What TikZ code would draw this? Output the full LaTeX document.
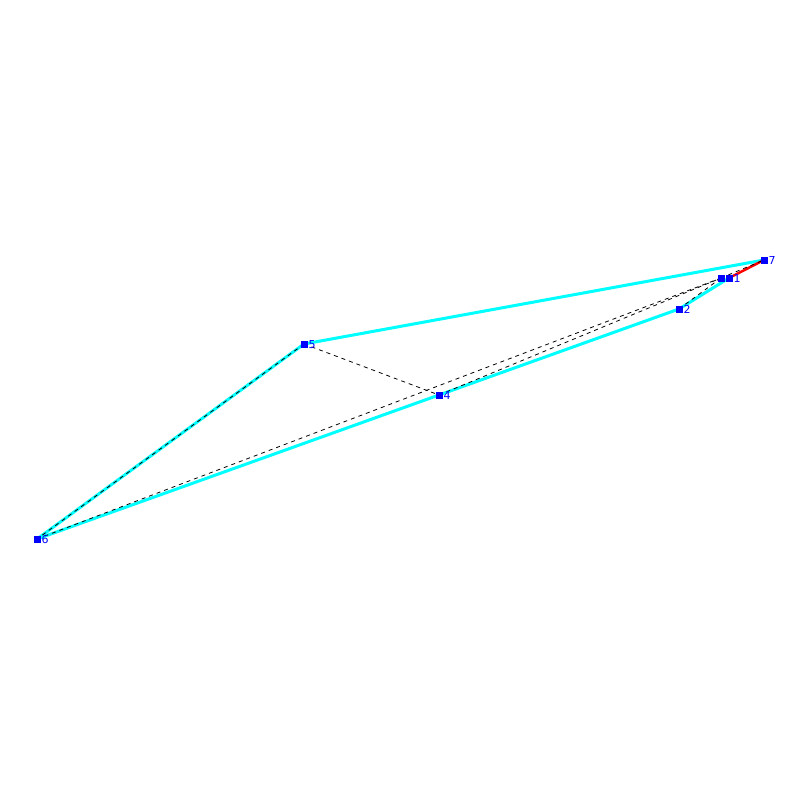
\documentclass[tikz,border=0pt]{standalone}
\usepackage{fontspec}
\setmainfont{DejaVu Sans}
\definecolor{aqua}{RGB}{0,255,255}
\definecolor{pureblue}{RGB}{0,0,255}
\definecolor{purered}{RGB}{255,0,0}
\begin{document}
\begin{tikzpicture}[x=1pt,y=-1pt,
  vert/.style={fill=pureblue,minimum size=7pt,inner sep=0pt,outer sep=0pt},
  lab/.style={text=pureblue,font=\fontsize{11}{11}\selectfont,inner sep=0pt,anchor=west},
  cyanedge/.style={aqua,line width=3pt},
  rededge/.style={purered,line width=2.5pt},
  dashedge/.style={black,line width=0.8pt,dash pattern=on 4pt off 4pt}]
\useasboundingbox (0,0) rectangle (800,800);
\node[vert] (n0) at (721,278) {};
\node[vert] (n1) at (729,278) {};
\node[vert] (n2) at (679,309) {};
\node[vert] (n4) at (439,395) {};
\node[vert] (n5) at (304,344) {};
\node[vert] (n6) at (37,539) {};
\node[vert] (n7) at (764,260) {};
\draw[cyanedge] (n5.center) -- (n7.center);
\draw[cyanedge] (n5.center) -- (n6.center);
\draw[cyanedge] (n6.center) -- (n4.center);
\draw[cyanedge] (n4.center) -- (n2.center);
\draw[cyanedge] (n2.center) -- (n1.center);
\draw[rededge] (n1.center) -- (n7.center);
\draw[dashedge] (n5.center) -- (n6.center);
\draw[dashedge] (n6.center) -- (n0.center);
\draw[dashedge] (n4.center) -- (n0.center);
\draw[dashedge] (n5.center) -- (n4.center);
\draw[dashedge] (n2.center) -- (n0.center);
\draw[dashedge] (n0.center) -- (n7.center);
\foreach \n in {n0,n1,n2,n4,n5,n6,n7} \node[vert] at (\n) {};
\node[lab] (l1) at ([xshift=1pt,yshift=-0.5pt]n1.east) {1};
\node[lab] (l2) at ([xshift=1pt,yshift=-0.5pt]n2.east) {2};
\node[lab] (l4) at ([xshift=1pt,yshift=-0.5pt]n4.east) {4};
\node[lab] (l5) at ([xshift=1pt,yshift=-0.5pt]n5.east) {5};
\node[lab] (l6) at ([xshift=1pt,yshift=-0.5pt]n6.east) {6};
\node[lab] (l7) at ([xshift=1pt,yshift=-0.5pt]n7.east) {7};
\end{tikzpicture}
\end{document}
